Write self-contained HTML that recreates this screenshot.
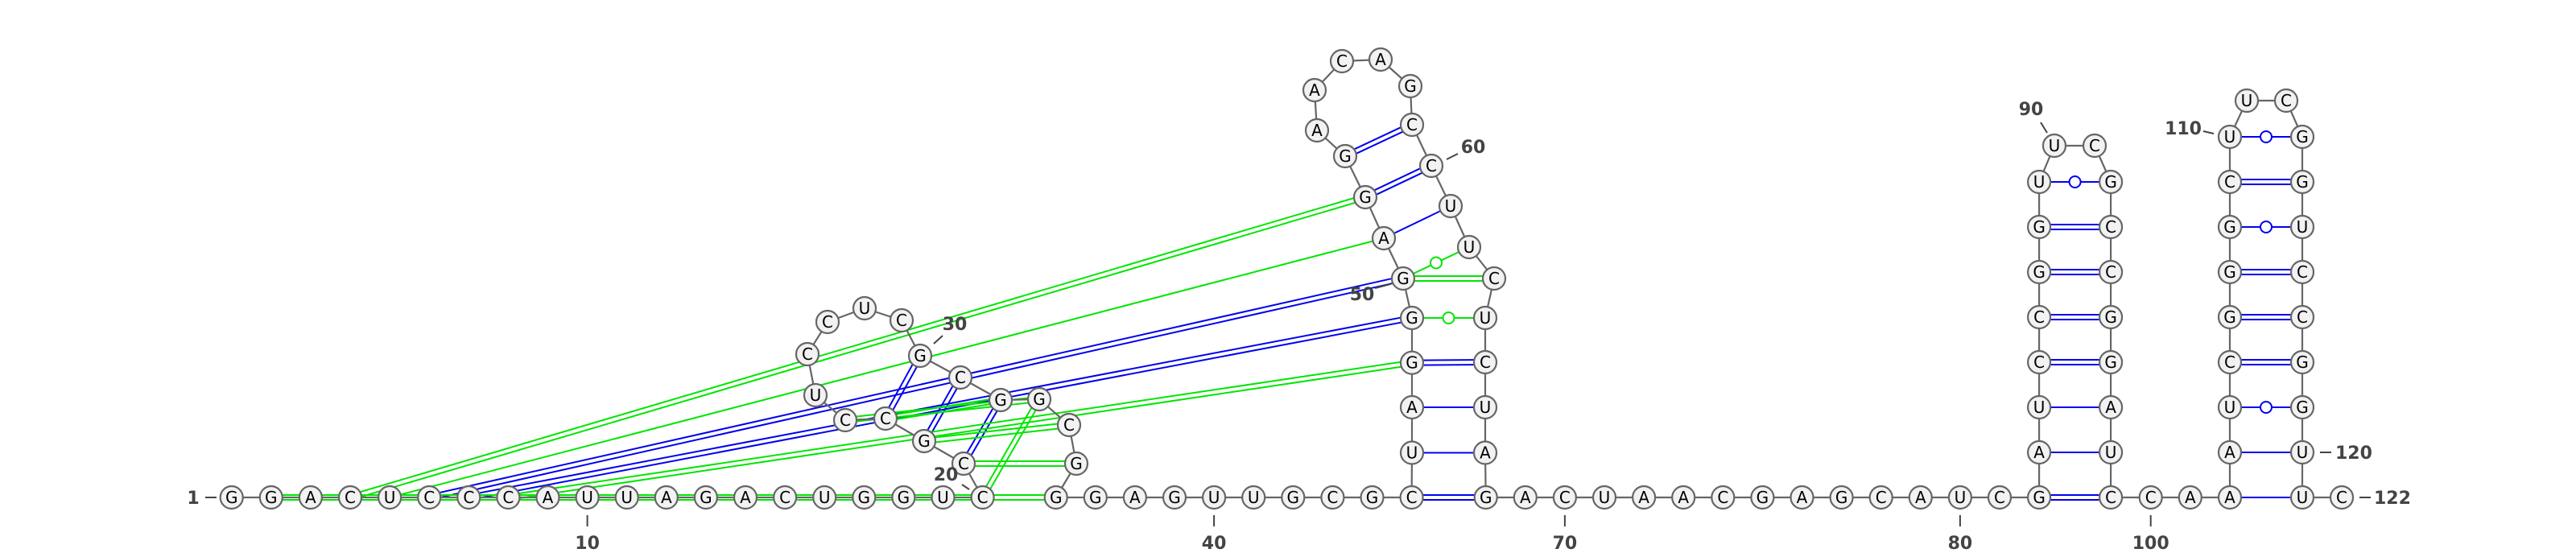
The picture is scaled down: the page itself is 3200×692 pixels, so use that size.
<!DOCTYPE html>
<html><head><meta charset="utf-8"><style>
html,body{margin:0;padding:0;background:#fff;}
svg{display:block;}
</style></head><body>
<svg id="chart" width="3200" height="692" viewBox="0 0 3200 692" xmlns="http://www.w3.org/2000/svg">
<g id="pairs"></g>
<g id="backbone"></g>
<g id="nodes"></g>
<g id="labels"></g>
</svg>
<script>
const seqSegments = ["GGACUCCCAUUAGACUGGUC","CGCCUCCUCGCGGCG","GGAGUUGCGC","UAGGGAGGAACAGCCUUCUCUAG","ACUAACGAGCAUC","GAUCCGGUUCGCCGGAUC","CA","AAUCGGGCUUCGGUCCGGUUC"];
const sequence = seqSegments.join("");
// base pairs: [i, j, colour, style]  (d=double, s=single, w=wobble)
const pairI =   [45,46,47,48,51,52,53,82,83,84,85,86,87,88,89,102,103,104,105,106,107,108,109,110,23,22,21,6,7, 49,50,50,4,5,8,20,21,2,24,23,22];
const pairJ =   [68,67,66,65,61,60,59,99,98,97,96,95,94,93,92,121,120,119,118,117,116,115,114,113,30,31,32,50,49, 64,63,62,52,51,48,33,35,36,33,32,34];
const pairCol = ["b","b","b","b","b","b","b","b","b","b","b","b","b","b","b","b","b","b","b","b","b","b","b","b","b","b","b","b","b", "g","g","g","g","g","g","g","g","g","g","g","g"];
const pairSty = ["d","s","s","d","s","d","d","d","s","s","d","d","d","d","w","s","s","w","d","d","d","w","d","w","d","d","d","d","d", "w","d","w","d","s","d","d","d","d","d","d","d"];
const tickPos = [1,10,20,30,40,50,60,70,80,90,100,110,120,122];

// layout geometry
const P = {};
const BY = 618, SP = 49.1;
for (let i=1;i<=20;i++) P[i]=[287.7+SP*(i-1),BY];
const loop1 = [[1197,576],[1148,548],[1100,520],[1050,522],[1013,491],[1003,440],[1028,400],[1074,383],[1120,398],[1143,442],[1193,469],[1243,497],[1291,496],[1328,528],[1337,576]];
loop1.forEach((p,k)=>P[21+k]=p);
for (let i=36;i<=45;i++) P[i]=[1311.7+SP*(i-36),BY];
const hp1 = [[1754,562.5],[1754,506],[1754,450.7],[1754,395],[1743,346],[1719,296],[1696,245],[1671,194],[1636,162],[1633,112],[1667,76],[1715,74],[1752,107],[1754,155],[1778,206],[1802,256],[1825,307],[1856,346],[1845,395],[1845,450],[1845,506],[1845,562.5]];
hp1.forEach((p,k)=>P[46+k]=p);
for (let i=68;i<=82;i++) P[i]=[1845.7+SP*(i-68),BY];
const x2a = P[82][0], x2b = x2a+89;
for (let i=83;i<=89;i++) P[i]=[x2a,BY-56*(i-82)];
P[90]=[2552,181]; P[91]=[2602,181];
for (let i=92;i<=98;i++) P[i]=[x2b,BY-56*(99-i)];
P[99]=[x2b,BY];
P[100]=[2671.7,BY]; P[101]=[2720.8,BY]; P[102]=[2770,BY];
for (let i=103;i<=110;i++) P[i]=[2770,BY-56*(i-102)];
P[111]=[2791,125]; P[112]=[2840,125];
for (let i=113;i<=120;i++) P[i]=[2860,BY-56*(121-i)];
P[121]=[2860,BY]; P[122]=[2909,BY];

const NS="http://www.w3.org/2000/svg";
function mk(tag, attrs, parent){const e=document.createElementNS(NS,tag);for(const k in attrs)e.setAttribute(k,attrs[k]);parent.appendChild(e);return e;}
const gP=document.getElementById('pairs'), gB=document.getElementById('backbone'), gN=document.getElementById('nodes'), gL=document.getElementById('labels');
const COL={b:"#0000f0",g:"#00e600"};

for (let k=0;k<pairI.length;k++){
  const a=P[pairI[k]], b=P[pairJ[k]], c=COL[pairCol[k]];
  const g=mk('g',{},gP);
  
  
  const dx=b[0]-a[0], dy=b[1]-a[1], L=Math.hypot(dx,dy), nx=-dy/L, ny=dx/L;
  if (pairSty[k]==='d'){
    for (const o of [-3,3]) mk('line',{x1:a[0]+nx*o,y1:a[1]+ny*o,x2:b[0]+nx*o,y2:b[1]+ny*o,stroke:c,'stroke-width':2},g);
  } else {
    mk('line',{x1:a[0],y1:a[1],x2:b[0],y2:b[1],stroke:c,'stroke-width':2},g);
    if (pairSty[k]==='w') mk('circle',{cx:(a[0]+b[0])/2,cy:(a[1]+b[1])/2,r:7,fill:'#fff',stroke:c,'stroke-width':2},g);
  }
}
for (let i=1;i<122;i++){
  const l=mk('line',{x1:P[i][0],y1:P[i][1],x2:P[i+1][0],y2:P[i+1][1],stroke:'#666','stroke-width':2.2},gB);
  
  
}
for (let i=1;i<=122;i++){
  const g=mk('g',{},gN);
  
  
  mk('circle',{cx:P[i][0],cy:P[i][1],r:14,fill:'#f2f2f2',stroke:'#666','stroke-width':2.2},g);
  const t=mk('text',{x:P[i][0],y:P[i][1]+7,'text-anchor':'middle','font-family':'"DejaVu Sans","Liberation Sans",sans-serif','font-size':20,fill:'#000'},g);
  t.textContent=sequence[i-1];
}
const labelGeo = {
  1:[255,618,269,618,240,626,'middle'],
  10:[0,0,0,0,0,0,'below'],20:[1195,602,1204,608,1175,597,'middle'],
  30:[1160,427,1171,417,1186,410,'middle'],40:[0,0,0,0,0,0,'below'],
  50:[1708,358,1727,353,1692,373,'middle'],60:[1797,198,1811,191,1830,190,'middle'],
  70:[0,0,0,0,0,0,'below'],80:[0,0,0,0,0,0,'below'],
  90:[2535,152,2543,165,2523,143,'middle'],100:[0,0,0,0,0,0,'below'],
  110:[2737,163,2750,166,2735,167,'end'],120:[2882,562,2896,562,2901,570,'start'],
  122:[2931,618,2945,618,2949,626,'start']
};
tickPos.forEach(n=>{
  const g=mk('g',{},gL);
  
  
  let G=labelGeo[n];
  if (G[6]==='below'){const x=P[n][0];G=[x,640,x,654,x,682,'middle'];}
  mk('line',{x1:G[0],y1:G[1],x2:G[2],y2:G[3],stroke:'#444','stroke-width':2},g);
  const t=mk('text',{x:G[4],y:G[5],'text-anchor':G[6],'font-family':'"DejaVu Sans","Liberation Sans",sans-serif','font-size':22,'font-weight':'bold',fill:'#444'},g);
  t.textContent=String(n);
});
</script>
</body></html>
